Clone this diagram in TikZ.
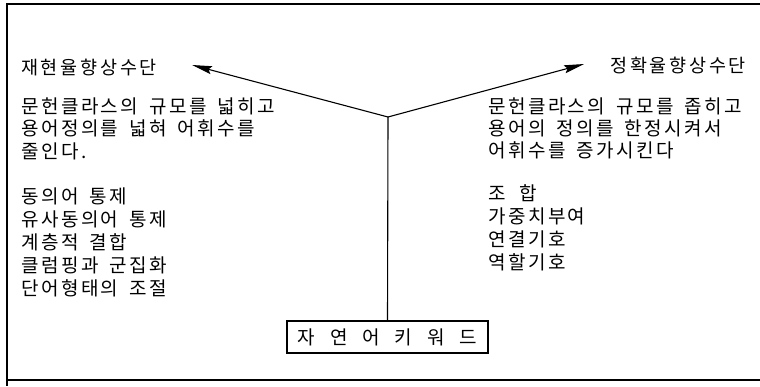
\documentclass[tikz,border=0pt]{standalone}
\usepackage{fontspec}
\newfontfamily\krbody[LetterSpace=13]{Noto Sans CJK KR}
\newfontfamily\krhead[LetterSpace=15]{Noto Sans CJK KR}
\usetikzlibrary{arrows.meta}
\begin{document}
\begin{tikzpicture}[x=1pt,y=-1pt,
  txt/.style={anchor=base west,inner sep=0pt,font=\krbody\fontsize{19}{21}\selectfont,execute at begin node={\spaceskip=11pt\relax}},
  head/.style={anchor=base west,inner sep=0pt,font=\krhead\fontsize{18.5}{20}\selectfont},
  frameline/.style={line width=1.4pt},
  conn/.style={line width=1.1pt},
  tip/.style={conn,-{Stealth[length=20pt,width=8pt,inset=3pt]}},
  kwbox/.style={draw,line width=1.2pt,minimum width=201pt,minimum height=32pt,inner sep=0pt,font=\krbody\fontsize{19}{21}\selectfont}]
\useasboundingbox (0,0) rectangle (760,386);
\fill[white] (0,0) rectangle (760,386);
% frame
\draw[frameline] (760,4) -- (7,4) -- (7,386);
\draw[frameline] (7,380) -- (760,380);
% headers
\node[head] (hL) at (21,74) {재현율향상수단};
\node[head] (hR) at (610,72) {정확율향상수단};
% left column
\node[txt] (l1) at (21,113) {문헌클라스의 규모를 넓히고};
\node[txt] (l2) at (21,135) {용어정의를 넓혀 어휘수를};
\node[txt] (l3) at (21,158) {줄인다.};
\node[txt] (l4) at (21,203) {동의어 통제};
\node[txt] (l5) at (21,226) {유사동의어 통제};
\node[txt] (l6) at (21,249) {계층적 결합};
\node[txt] (l7) at (21,272) {클럼핑과 군집화};
\node[txt] (l8) at (21,295) {단어형태의 조절};
% right column
\node[txt] (r1) at (488,113) {문헌클라스의 규모를 좁히고};
\node[txt] (r2) at (488,135) {용어의 정의를 한정시켜서};
\node[txt] (r3) at (488,157) {어휘수를 증가시킨다};
\node[txt] (r4) at (488,200) {조\hspace{14pt}합};
\node[txt] (r5) at (488,223) {가중치부여};
\node[txt] (r6) at (488,246) {연결기호};
\node[txt] (r7) at (488,269) {역할기호};
% keyword box
\node[kwbox] (kw) at (387.5,337) {자\hspace{15pt}연\hspace{15pt}어\hspace{15pt}키\hspace{15pt}워\hspace{15pt}드};
% connectors
\coordinate (j) at (388,117);
\coordinate (tipL) at (192,65);
\coordinate (tipR) at (584,64);
\draw[conn] (kw.north) -- (j);
\draw[tip] (j) -- (tipL);
\draw[tip] (j) -- (tipR);
\end{tikzpicture}
\end{document}
